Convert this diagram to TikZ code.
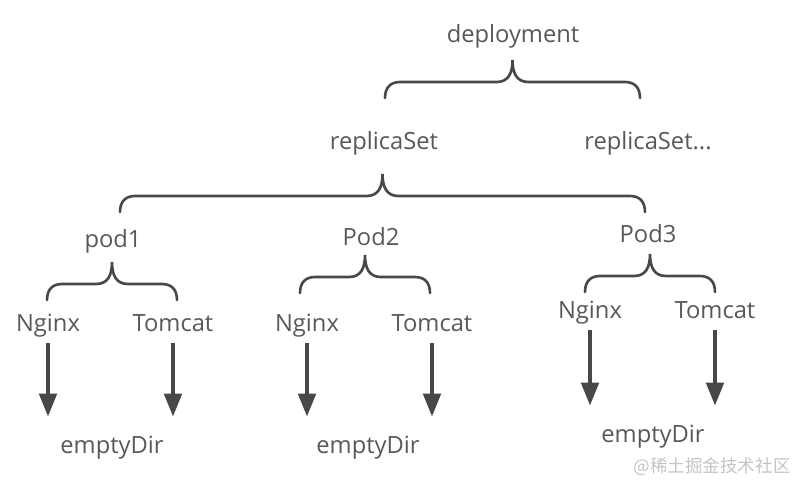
\documentclass[tikz,border=0pt]{standalone}
\usepackage{xcolor}
\usepackage{fontspec}
\setmainfont{Open Sans}
\newfontfamily\cjkfont{Noto Sans CJK SC}
\usepackage{tikz}
\usetikzlibrary{arrows.meta, calc}
\definecolor{mytext}{RGB}{88,88,88}
\definecolor{myline}{RGB}{72,72,72}
\definecolor{mymark}{RGB}{196,196,196}
\tikzset{
  txt/.style={inner sep=1pt, text=mytext, text height=10pt, text depth=3.5pt,
    font=\fontsize{13.5}{16}\selectfont},
  kbrace/.style={draw=myline, line width=1.5pt, line cap=round, to path={
    let \p1=(\tikztostart), \p2=(\tikztotarget),
        \p3=($(\tikztostart)!0.5!(\tikztotarget)$) in
    (\p1) .. controls +(0,0.22cm) and +(-0.18cm,0) .. (\x1+0.3cm,\y1+0.32cm)
    -- (\x3-0.32cm,\y1+0.32cm) .. controls +(0.24cm,0) and +(0,-0.26cm) .. (\x3,\y1+0.76cm)
    .. controls +(0,-0.26cm) and +(-0.24cm,0) .. (\x3+0.32cm,\y1+0.32cm)
    -- (\x2-0.3cm,\y2+0.32cm) .. controls +(0.18cm,0) and +(0,0.22cm) .. (\p2)}},
  arrow/.style={-{Triangle[width=10pt,length=13pt]}, line width=1.9pt, color=myline,
    shorten <=2pt, shorten >=10pt}
}

\begin{document}
\begin{tikzpicture}[x=0.02cm, y=-0.02cm]
  \useasboundingbox (0,0) rectangle (802,491);

  % Top levels
  \node[txt] (dep) at (513,37) {deployment};
  \node[txt] (rs) at (384,144) {replicaSet};
  \node[txt] (rsx) at (648,144) {replicaSet...};

  % Pods
  \node[txt] (pod1) at (113,242) {pod1};
  \node[txt] (pod2) at (371,240) {Pod2};
  \node[txt] (pod3) at (648,237) {Pod3};

  % Containers
  \node[txt] (ng1) at (48,326) {Nginx};
  \node[txt] (tc1) at (173,326) {Tomcat};
  \node[txt] (ng2) at (307,326) {Nginx};
  \node[txt] (tc2) at (432,326) {Tomcat};
  \node[txt] (ng3) at (590,313) {Nginx};
  \node[txt] (tc3) at (715,313) {Tomcat};

  % Volumes
  \node[txt] (ed1) at (112,448) {emptyDir};
  \node[txt] (ed2) at (368,448) {emptyDir};
  \node[txt] (ed3) at (653,437) {emptyDir};

  % Brace ends
  \coordinate (b0l) at (385,98);  \coordinate (b0r) at (640,98);
  \coordinate (bsl) at (120,212); \coordinate (bsr) at (645,212);
  \coordinate (b1l) at (47,300);  \coordinate (b1r) at (177,300);
  \coordinate (b2l) at (300,293); \coordinate (b2r) at (430,293);
  \coordinate (b3l) at (585,292); \coordinate (b3r) at (715,292);

  % Braces
  \draw[kbrace] (b0l) to (b0r);
  \draw[kbrace] (bsl) to (bsr);
  \draw[kbrace] (b1l) to (b1r);
  \draw[kbrace] (b2l) to (b2r);
  \draw[kbrace] (b3l) to (b3r);

  % Mounts
  \draw[arrow] (ng1.south) -- (ng1.south |- ed1.north);
  \draw[arrow] (tc1.south) -- (tc1.south |- ed1.north);
  \draw[arrow] (ng2.south) -- (ng2.south |- ed2.north);
  \draw[arrow] (tc2.south) -- (tc2.south |- ed2.north);
  \draw[arrow] (ng3.south) -- (ng3.south |- ed3.north);
  \draw[arrow] (tc3.south) -- (tc3.south |- ed3.north);

  % Watermark
  \node[inner sep=0pt, text=mymark, font=\cjkfont\fontsize{10}{12}\selectfont] (mark) at (712,467) {@稀土掘金技术社区};
\end{tikzpicture}
\end{document}
